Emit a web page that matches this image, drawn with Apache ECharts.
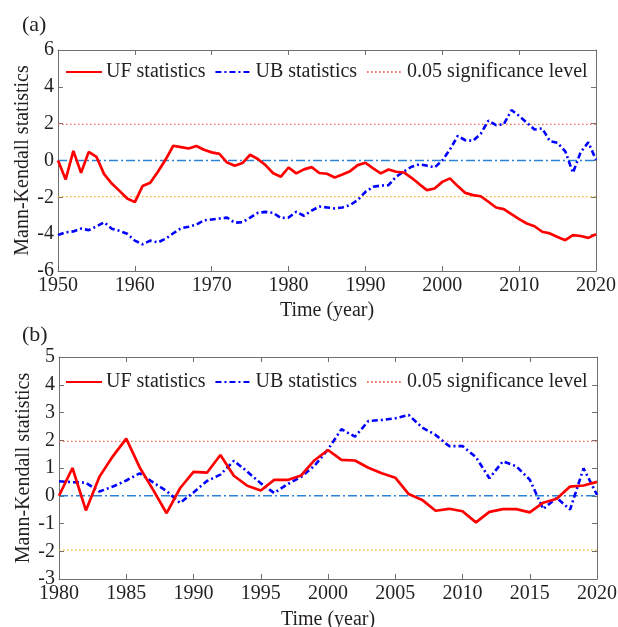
<!DOCTYPE html>
<html><head><meta charset="utf-8">
<script src="https://cdn.jsdelivr.net/npm/echarts@6/dist/echarts.min.js"></script>
<style>html,body{margin:0;padding:0;background:#fff}#c{width:618px;height:627px}</style>
</head><body><div id="c"></div>
<script>
// ---- Data ----
const startA = 1950, endA = 2020;
const startB = 1980, endB = 2020;
const ufA = [0, -1.03, 0.52, -0.67, 0.47, 0.2, -0.74, -1.25, -1.65, -2.06,
  -2.26, -1.39, -1.21, -0.61, 0.05, 0.8, 0.73, 0.65, 0.79, 0.58,
  0.44, 0.36, -0.11, -0.29, -0.14, 0.31, 0.08, -0.25, -0.69, -0.88,
  -0.38, -0.7, -0.48, -0.36, -0.68, -0.72, -0.92, -0.76, -0.58, -0.25,
  -0.12, -0.43, -0.70, -0.49, -0.61, -0.65, -0.94, -1.28, -1.61, -1.52,
  -1.16, -0.97, -1.39, -1.76, -1.88, -1.94, -2.24, -2.55, -2.64, -2.91,
  -3.18, -3.42, -3.57, -3.87, -3.96, -4.15, -4.33, -4.05, -4.1, -4.2,
  -4.0];
const ubA = [-4.05, -3.9, -3.85, -3.7, -3.78, -3.58, -3.36, -3.7, -3.82, -3.98,
  -4.35, -4.55, -4.35, -4.45, -4.25, -3.95, -3.68, -3.6, -3.48, -3.25,
  -3.2, -3.15, -3.1, -3.38, -3.35, -3.1, -2.84, -2.79, -2.84, -3.12,
  -3.1, -2.78, -3.0, -2.72, -2.5, -2.55, -2.6, -2.55, -2.42, -2.15,
  -1.7, -1.43, -1.36, -1.34, -0.88, -0.6, -0.34, -0.21, -0.28, -0.38,
  0.0, 0.6, 1.33, 1.1, 1.07, 1.45, 2.17, 1.92, 1.96, 2.74,
  2.42, 2.05, 1.68, 1.74, 1.05, 0.96, 0.5, -0.67, 0.45, 0.99,
  0.04];
const ufB = [0, 1.0, -0.53, 0.68, 1.42, 2.06, 1.02, 0.21, -0.63, 0.27,
  0.86, 0.83, 1.47, 0.72, 0.36, 0.19, 0.57, 0.57, 0.73, 1.28,
  1.65, 1.29, 1.27, 1.01, 0.81, 0.65, 0.06, -0.15, -0.54, -0.47,
  -0.56, -0.96, -0.58, -0.48, -0.48, -0.6, -0.25, -0.11, 0.33, 0.37,
  0.5];
const ubB = [0.52, 0.49, 0.47, 0.15, 0.33, 0.55, 0.81, 0.48, 0.17, -0.26,
  0.12, 0.53, 0.76, 1.26, 0.87, 0.45, 0.1, 0.42, 0.68, 1.08,
  1.67, 2.4, 2.13, 2.69, 2.73, 2.79, 2.91, 2.46, 2.19, 1.79,
  1.79, 1.39, 0.63, 1.24, 1.06, 0.58, -0.48, -0.07, -0.5, 0.99,
  0.03];
const sigLevel = 1.96;
const zeroLevel = 0;
const yTicksA = {min: -6, max: 6, interval: 2};
const yTicksB = {min: -3, max: 5, interval: 1};
const xTicksA = {min: 1950, max: 2020, interval: 10};
const xTicksB = {min: 1980, max: 2020, interval: 5};
const names = {uf: 'UF statistics', ub: 'UB statistics', sig: '0.05 significance level'};

// ---- Build ----
function pairs(start, vals) { return vals.map((v, i) => [start + i, v]); }
function hline(x0, x1, v) { return [[x0, v], [x1, v]]; }

const FONT = "'Liberation Serif','Times New Roman',serif";
const TXT = '#231f20';
const AX = '#6f6f6f';
const RED = '#ff0000', BLUE = '#0000ff';
const ZERO = '#2a83d6', SIGU = '#f26a4f', SIGL = '#f0b429';

function xAx(grid, t, pos, showLabel, gap) {
  return {
    type: 'value', gridIndex: grid, position: pos, min: t.min, max: t.max, interval: t.interval,
    splitLine: {show: false},
    axisLine: {show: true, onZero: false, lineStyle: {color: AX, width: 1}},
    axisTick: {show: true, inside: true, length: 5, lineStyle: {color: AX}},
    axisLabel: {show: showLabel, fontFamily: FONT, fontSize: 20, color: TXT, margin: 5, formatter: v => String(v)},
    name: showLabel ? 'Time (year)' : '', nameLocation: 'middle', nameGap: gap || 30, nameMoveOverlap: false,
    nameTextStyle: {fontFamily: FONT, fontSize: 20, color: TXT}
  };
}
function yAx(grid, t, pos, showLabel) {
  return {
    type: 'value', gridIndex: grid, position: pos, min: t.min, max: t.max, interval: t.interval,
    splitLine: {show: false},
    axisLine: {show: true, onZero: false, lineStyle: {color: AX, width: 1}},
    axisTick: {show: true, inside: true, length: 5, lineStyle: {color: AX}},
    axisLabel: {show: showLabel, fontFamily: FONT, fontSize: 20, color: TXT, margin: 4},
    name: showLabel ? 'Mann-Kendall statistics' : '', nameLocation: 'middle', nameGap: 25, nameMoveOverlap: false,
    nameTextStyle: {fontFamily: FONT, fontSize: 20, color: TXT}
  };
}
function panelSeries(xi, yi, x0, x1, uf, ub) {
  const base = {type: 'line', xAxisIndex: xi, yAxisIndex: yi, symbol: 'none', silent: true};
  return [
    Object.assign({}, base, {name: names.sig, data: hline(x0, x1, sigLevel), lineStyle: {color: SIGU, width: 1.2, type: [1.5, 2.5]}, itemStyle: {color: SIGU}, z: 1}),
    Object.assign({}, base, {name: 'lower', data: hline(x0, x1, -sigLevel), lineStyle: {color: SIGL, width: 1.2, type: [1.5, 2.5]}, itemStyle: {color: SIGL}, z: 1}),
    Object.assign({}, base, {name: 'zero', data: hline(x0, x1, zeroLevel), lineStyle: {color: ZERO, width: 1.4, type: [9, 3, 2, 3]}, itemStyle: {color: ZERO}, z: 1}),
    Object.assign({}, base, {name: names.ub, data: pairs(x0, ub), lineStyle: {color: BLUE, width: 2.6, type: [6, 3, 2, 3]}, itemStyle: {color: BLUE}, z: 3}),
    Object.assign({}, base, {name: names.uf, data: pairs(x0, uf), lineStyle: {color: RED, width: 2.7}, itemStyle: {color: RED}, z: 4})
  ];
}
function legend(top) {
  return {
    top: top, left: 65, padding: 0, itemWidth: 36, itemHeight: 14, itemGap: 9,
    data: [names.uf, names.ub, names.sig], selectedMode: false,
    itemStyle: {opacity: 0, borderWidth: 0},
    textStyle: {fontFamily: FONT, fontSize: 20, color: TXT, padding: [0, 0, 0, -1]}
  };
}

const chart = echarts.init(document.getElementById('c'), null, {renderer: 'canvas'});
chart.setOption({
  animation: false,
  backgroundColor: '#fff',
  title: [
    {text: '(a)', left: 22, top: 14, padding: 0, textStyle: {fontFamily: FONT, fontSize: 22, fontWeight: 'normal', color: TXT}},
    {text: '(b)', left: 22, top: 324, padding: 0, textStyle: {fontFamily: FONT, fontSize: 22, fontWeight: 'normal', color: TXT}}
  ],
  legend: [legend(62), legend(372)],
  grid: [
    {left: 58, right: 22, top: 50, height: 221, outerBoundsMode: 'none', containLabel: false},
    {left: 59, right: 21, top: 357, height: 222, outerBoundsMode: 'none', containLabel: false}
  ],
  xAxis: [xAx(0, xTicksA, 'bottom', true, 30), xAx(0, xTicksA, 'top', false), xAx(1, xTicksB, 'bottom', true, 31), xAx(1, xTicksB, 'top', false)],
  yAxis: [yAx(0, yTicksA, 'left', true), yAx(0, yTicksA, 'right', false), yAx(1, yTicksB, 'left', true), yAx(1, yTicksB, 'right', false)],
  series: panelSeries(0, 0, startA, endA, ufA, ubA).concat(panelSeries(2, 2, startB, endB, ufB, ubB))
});
</script></body></html>
